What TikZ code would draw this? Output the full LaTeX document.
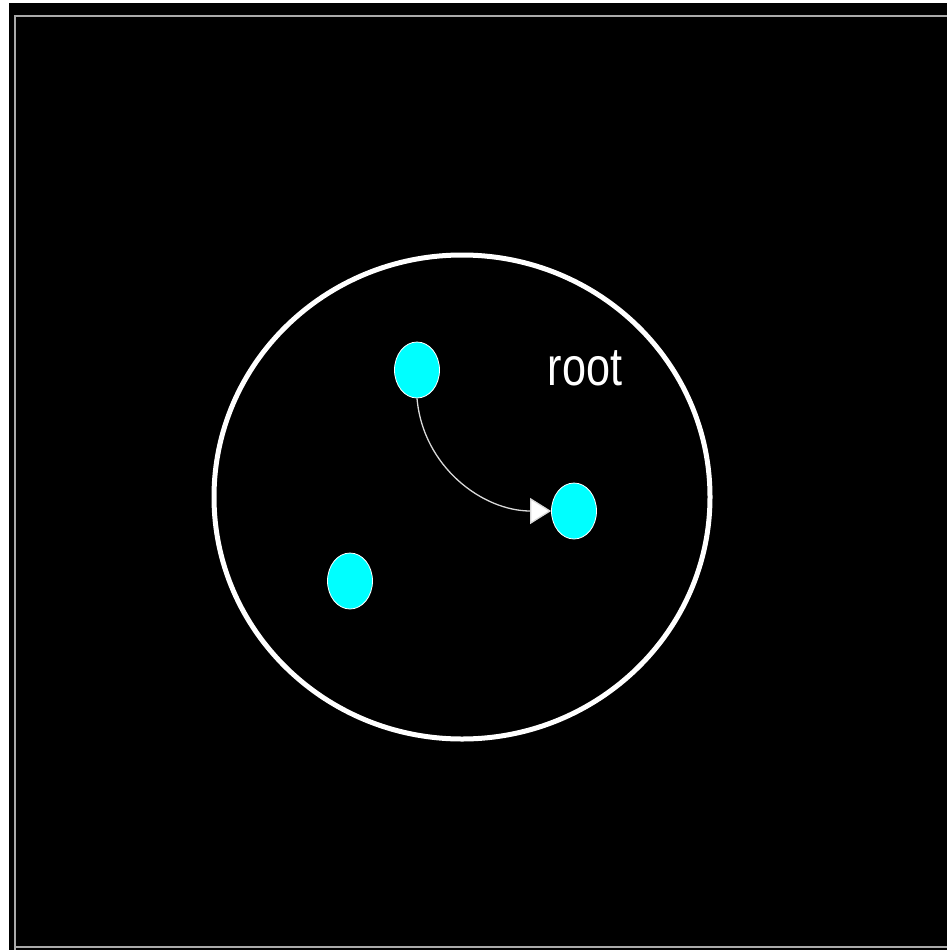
\documentclass[tikz,border=0pt]{standalone}
\usepackage{fontspec}
\setmainfont{Liberation Sans}
\newfontfamily\narrowsans[FakeStretch=0.8]{Liberation Sans}
\usetikzlibrary{arrows.meta,shapes.geometric}
\definecolor{dotcyan}{RGB}{0,255,255}
\definecolor{framegray}{RGB}{170,170,170}
\begin{document}
\begin{tikzpicture}[x=1pt,y=-1pt,
  dot/.style={ellipse,draw=white,line width=0.8pt,fill=dotcyan,minimum width=45pt,minimum height=56pt,inner sep=0pt},
  frameline/.style={draw=framegray,line width=2pt},
  link/.style={draw=white!85!black,line width=1.3pt,-{Triangle[length=21pt,width=26pt,fill=white]}}]
\useasboundingbox (0,0) rectangle (947,950);
\fill[white] (0,0) rectangle (947,950);
\fill[black] (9,3) rectangle (947,950);
\draw[frameline] (15,950) -- (15,16) -- (947,16);
\draw[frameline] (15,947) -- (947,947);
\node[draw=white,line width=5pt,ellipse,minimum width=496pt,minimum height=484pt,inner sep=0pt] (root) at (462,497) {};
\node[dot] (a) at (417,370) {};
\node[dot] (b) at (574,511) {};
\node[dot] (c) at (350,581) {};
\node[text=white,font=\narrowsans\fontsize{54}{60}\selectfont,anchor=base,inner sep=0pt] (lbl) at (585,385) {root};
\draw[link] (a.south) to[out=-85,in=180] (b.west);
\end{tikzpicture}
\end{document}
